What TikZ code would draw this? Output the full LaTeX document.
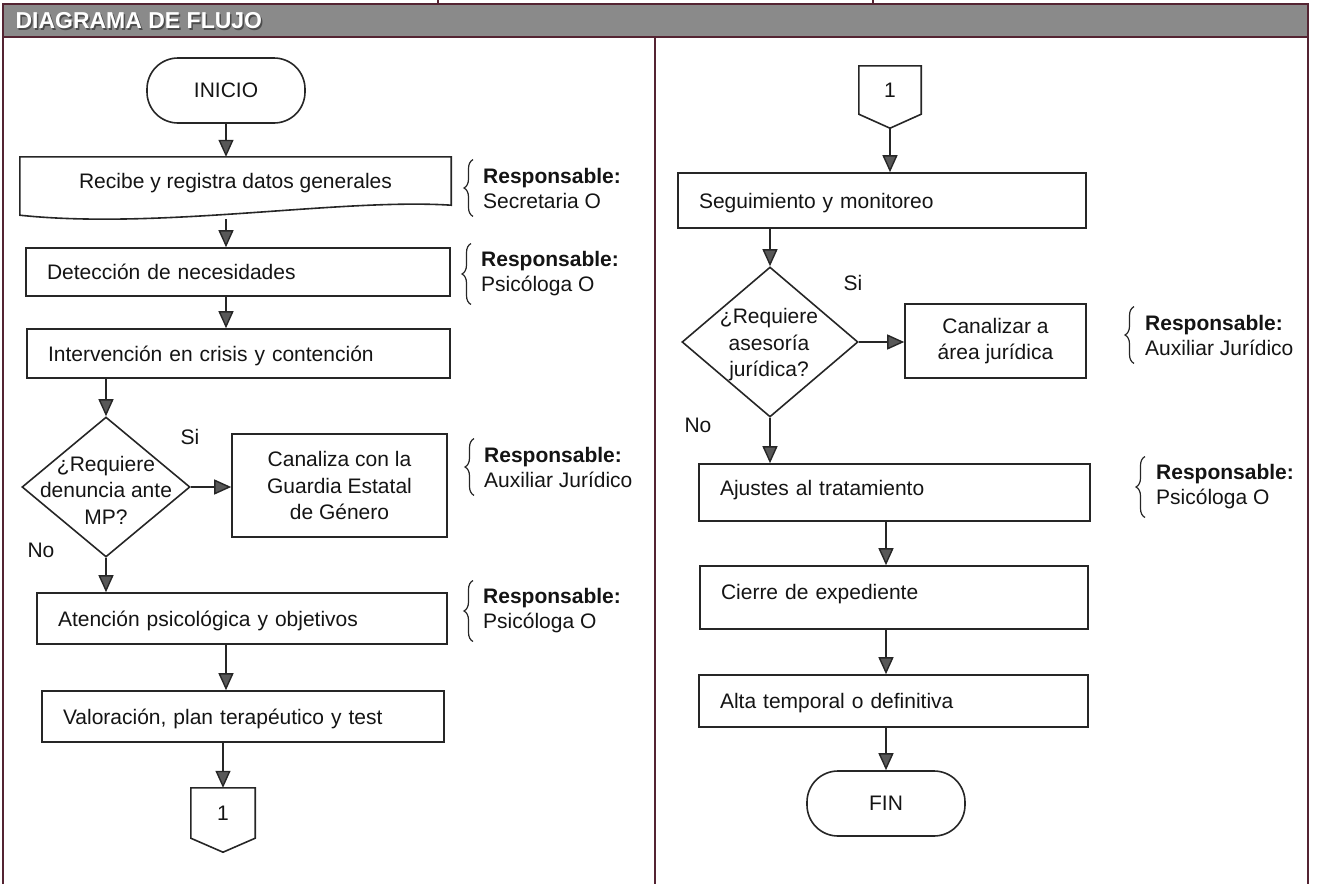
\documentclass[tikz,border=0pt]{standalone}
\usepackage{fontspec}
\setmainfont{Liberation Sans}
\usetikzlibrary{arrows.meta,shapes.geometric,decorations.pathreplacing,calc}

\definecolor{marco}{RGB}{84,36,50}
\definecolor{banda}{RGB}{138,138,138}
\definecolor{trazo}{RGB}{38,38,38}
\definecolor{punta}{RGB}{88,88,88}

\begin{document}
\begin{tikzpicture}[x=1pt, y=-1pt,
    every node/.style={font=\fontsize{21}{26.5}\selectfont, text=black!92},
    caja/.style={draw=trazo, line width=1.6pt, inner xsep=21pt, inner ysep=0pt, align=left, text height=15pt, text depth=0pt},
    cajac/.style={draw=trazo, line width=1.6pt, inner sep=0pt, align=center},
    term/.style={draw=trazo, line width=1.6pt, rounded corners=31pt, minimum width=158pt, minimum height=65pt, inner sep=0pt},
    rombo/.style={draw=trazo, line width=1.6pt, diamond, inner sep=0pt},
    resp/.style={anchor=west, align=left, inner xsep=0pt, inner ysep=8pt, font=\fontsize{21}{25}\selectfont},
    llave/.style={draw=trazo, line width=1.2pt, decorate, decoration={brace, amplitude=9pt}},
    flecha/.style={draw=trazo, line width=1.4pt, -{Triangle[length=17pt, width=15pt, fill=punta]}}]

  \useasboundingbox (0,0) rectangle (1318,892);

  % marco y encabezado
  \fill[banda] (3,4) rectangle (1308,37);
  \draw[marco, line width=2pt] (3,884) -- (3,4) -- (1308,4) -- (1308,884);
  \draw[marco, line width=2pt] (3,37) -- (1308,37);
  \draw[marco, line width=2pt] (655,37) -- (655,884);
  \draw[marco, line width=1.5pt] (438,0) -- (438,4) (873,0) -- (873,4);
  \node[anchor=west, text=black!70, font=\bfseries\fontsize{23}{26}\selectfont] (sombra) at (13.5,22.5) {DIAGRAMA DE FLUJO};
  \node[anchor=west, text=white, font=\bfseries\fontsize{23}{26}\selectfont] (titulo) at (12,21) {DIAGRAMA DE FLUJO};

  % columna izquierda
  \node[term] (inicio) at (226,90.5) {INICIO};
  \node[minimum width=431pt, minimum height=52pt, inner sep=0pt] (recibe) at (235.5,183) {Recibe y registra datos generales};
  \draw[trazo, line width=1.6pt] (recibe.north west) -- (recibe.north east) -- ($(recibe.south east)+(0,-4)$)
    .. controls (340,198) and (160,230) .. ($(recibe.south west)+(0,6)$) -- cycle;
  \coordinate (ola) at (226,219);
  \node[caja, text width=382pt, minimum height=48pt] (deteccion) at (238,272) {Detección de necesidades};
  \node[caja, text width=381pt, minimum height=49pt] (intervencion) at (238.5,353.5) {Intervención en crisis y contención};
  \node[rombo, minimum width=168pt, minimum height=140pt] (denuncia) at (106,487) {};
  \node[align=center, inner sep=0pt] (denunciatxt) at (106,490) {¿Requiere\\denuncia ante\\MP?};
  \node[cajac, minimum width=215pt, minimum height=103pt] (canaliza) at (339.5,485.5) {Canaliza con la\\Guardia Estatal\\de Género};
  \node (si1) at (190,437) {Si};
  \node (no1) at (41,550) {No};
  \node[caja, text width=368pt, minimum height=51pt] (atencion) at (242,618.5) {Atención psicológica y objetivos};
  \node[caja, text width=360pt, minimum height=51pt] (valoracion) at (243,716.5) {Valoración, plan terapéutico y test};
  \node[minimum width=64pt, minimum height=50pt, inner sep=0pt] (conector1) at (223,813) {1};
  \draw[trazo, line width=1.6pt] (conector1.north west) -- (conector1.north east) -- (conector1.south east)
    -- ($(conector1.south)+(0,14)$) -- (conector1.south west) -- cycle;

  \draw[flecha] (inicio.south) -- (inicio.south |- recibe.north);
  \draw[flecha] (ola) -- (ola |- deteccion.north);
  \draw[flecha] (deteccion.south -| inicio) -- (inicio |- intervencion.north);
  \draw[flecha] (intervencion.south -| denuncia) -- (denuncia.north);
  \draw[flecha] (denuncia.east) -- (denuncia.east -| canaliza.west);
  \draw[flecha] (denuncia.south) -- (denuncia.south |- atencion.north);
  \draw[flecha] (atencion.south -| inicio) -- (inicio |- valoracion.north);
  \draw[flecha] (valoracion.south -| conector1) -- (conector1.north);

  % responsables izquierda
  \node[resp] (resp1) at (483,188) {\textbf{Responsable:}\\Secretaria O};
  \node[resp] (resp2) at (481,274) {\textbf{Responsable:}\\Psicóloga O};
  \node[resp] (resp3) at (484,467) {\textbf{Responsable:}\\Auxiliar Jurídico};
  \node[resp] (resp4) at (483,611) {\textbf{Responsable:}\\Psicóloga O};
  \foreach \r in {resp1,resp2,resp3,resp4}
    \draw[llave] ([xshift=-10pt]\r.south west) -- ([xshift=-10pt]\r.north west);

  % columna derecha
  \node[minimum width=62pt, minimum height=48pt, inner sep=0pt] (conector2) at (890,90) {1};
  \draw[trazo, line width=1.6pt] (conector2.north west) -- (conector2.north east) -- (conector2.south east)
    -- ($(conector2.south)+(0,14)$) -- (conector2.south west) -- cycle;
  \coordinate (conector2p) at ($(conector2.south)+(0,14)$);
  \node[caja, text width=366pt, minimum height=55pt] (seguimiento) at (882,200.5) {Seguimiento y monitoreo};
  \node[rombo, minimum width=176pt, minimum height=150pt] (asesoria) at (770,342) {};
  \node[align=center, inner sep=0pt] (asesoriatxt) at (769,345) {¿Requiere\\asesoría\\jurídica?};
  \node[cajac, minimum width=181pt, minimum height=74pt] (canalizar) at (995.5,341) {Canalizar a\\área jurídica};
  \node (si2) at (853,283) {Si};
  \node (no2) at (698,425) {No};
  \node[caja, text width=349pt, minimum height=57pt, text depth=9pt] (ajustes) at (894.5,492.5) {Ajustes al tratamiento};
  \node[caja, text width=346pt, minimum height=63pt, text depth=11pt] (cierre) at (894,597.5) {Cierre de expediente};
  \node[caja, text width=347pt, minimum height=52pt] (alta) at (893.5,701) {Alta temporal o definitiva};
  \node[term] (fin) at (886,803.5) {FIN};

  \draw[flecha] (conector2p) -- (conector2p |- seguimiento.north);
  \draw[flecha] (seguimiento.south -| asesoria) -- (asesoria.north);
  \draw[flecha] (asesoria.east) -- (asesoria.east -| canalizar.west);
  \draw[flecha] (asesoria.south) -- (asesoria.south |- ajustes.north);
  \draw[flecha] (ajustes.south -| fin) -- (fin |- cierre.north);
  \draw[flecha] (cierre.south -| fin) -- (fin |- alta.north);
  \draw[flecha] (alta.south -| fin) -- (fin.north);

  % responsables derecha
  \node[resp] (resp5) at (1145,335) {\textbf{Responsable:}\\Auxiliar Jurídico};
  \node[resp] (resp6) at (1156,487) {\textbf{Responsable:}\\Psicóloga O};
  \foreach \r in {resp5,resp6}
    \draw[llave] ([xshift=-11pt]\r.south west) -- ([xshift=-11pt]\r.north west);
\end{tikzpicture}
\end{document}
